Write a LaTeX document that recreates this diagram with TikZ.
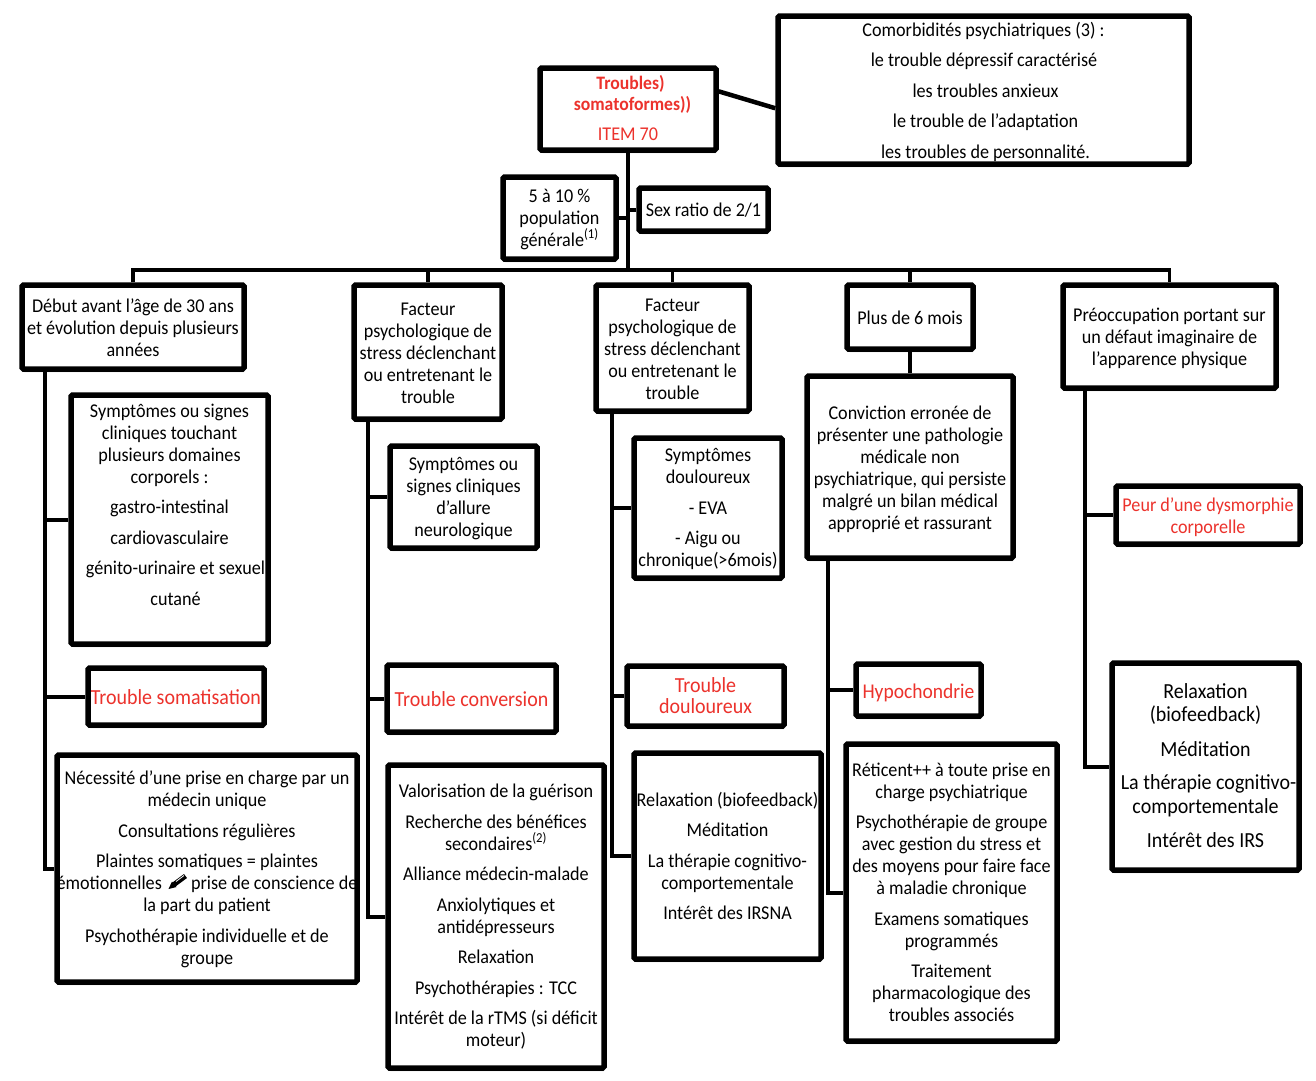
\documentclass[tikz,border=0pt]{standalone}
\usepackage{graphicx}
\usepackage{fontspec}
\setmainfont[FakeStretch=0.93]{Carlito}
\usetikzlibrary{shadows,calc}
\definecolor{redtxt}{RGB}{236,50,44}
\definecolor{shadowgray}{RGB}{175,175,175}
\newcommand{\rl}[1]{\textcolor{redtxt}{#1}}
\newcommand{\fsA}{\fontsize{21.5}{23}\selectfont}
\newcommand{\fsB}{\fontsize{21.5}{23}\selectfont}
\newcommand{\pg}{\\[8.5pt]}
\newcommand{\bx}[7]{%
  \pgfmathsetmacro{\cxx}{(#2+#4)/2}%
  \pgfmathsetmacro{\cyy}{(#3+#5)/2}%
  \pgfmathsetmacro{\www}{#4-#2}%
  \pgfmathsetmacro{\hhh}{#5-#3}%
  \node[boxstyle,minimum width=\www pt,minimum height=\hhh pt] (#1) at (\cxx,\cyy) {};
  \node[txtstyle,yshift=#6pt] (#1-t) at (#1.center) {#7};
}
\tikzset{
  boxstyle/.style={draw=black,fill=white,line width=5.5pt,rounded corners=1.5pt,inner sep=0pt,
    drop shadow={shadow xshift=1pt,shadow yshift=-3pt,fill=shadowgray,opacity=0.8}},
  txtstyle/.style={align=center,inner sep=0pt,font=\fontsize{19.5}{22}\selectfont,text=black},
  conn/.style={draw=black,line width=4pt},
  bus/.style={draw=black,line width=3.5pt},
}
\begin{document}
\begin{tikzpicture}[x=1pt,y=-1pt]
\path[fill=white,use as bounding box] (0,0) rectangle (1316,1080);
\bx{comorb}{778}{16}{1189}{164}{-1.5}{Comorbidités psychiatriques (3) :\pg\hspace*{1pt}le trouble dépressif caractérisé\pg\hspace*{4pt}les troubles anxieux\pg\hspace*{4pt}le trouble de l’adaptation\pg\hspace*{4pt}les troubles de personnalité.}
\bx{title}{540}{68}{716}{150}{1}{\fontsize{19}{21}\selectfont\rl{\textbf{\hspace*{5pt}Troubles)}}\\[-1pt]\fontsize{19}{21}\selectfont\rl{\textbf{\hspace*{9pt}somatoformes))}}\\[8pt]\rl{ITEM 70}}
\bx{pct}{503}{177}{616}{259}{-1.5}{5 à 10 \%\\population\\générale\textsuperscript{(1)}}
\bx{sex}{639}{188}{768}{231}{-1}{Sex ratio de 2/1}
\bx{boxa}{22}{285}{244}{369}{-1}{Début avant l’âge de 30 ans\\et évolution depuis plusieurs\\années}
\bx{boxb}{354}{285}{502}{419}{-1}{Facteur\\psychologique de\\stress déclenchant\\ou entretenant le\\trouble}
\bx{boxc}{596}{285}{749}{411}{-1}{Facteur\\psychologique de\\stress déclenchant\\ou entretenant le\\trouble}
\bx{boxd}{847}{285}{973}{349}{-1}{Plus de 6 mois}
\bx{boxe}{1063}{285}{1276}{388}{-1.5}{Préoccupation portant sur\\un défaut imaginaire de\\l’apparence physique}
\bx{suba}{71}{395}{268}{644}{15}{Symptômes ou signes\\cliniques touchant\\plusieurs domaines\\corporels :\pg gastro-intestinal\pg cardiovasculaire\pg\hspace*{12pt}génito-urinaire et sexuel\pg\hspace*{12pt}cutané}
\bx{soma}{88}{668}{264}{725}{-0.5}{\fsA\rl{Trouble somatisation}}
\bx{neces}{57}{755}{357}{982}{-1}{Nécessité d’une prise en charge par un\\médecin unique\pg Consultations régulières\pg Plaintes somatiques = plaintes\\émotionnelles \hspace*{21pt} prise de conscience de\\la part du patient\pg Psychothérapie individuelle et de\\groupe}
\bx{neuro}{390}{446}{537}{548}{-1.5}{Symptômes ou\\signes cliniques\\d’allure\\neurologique}
\bx{conv}{387}{665}{556}{732}{-1}{\fsA\rl{Trouble conversion}}
\bx{valor}{388}{765}{604}{1068}{-0.5}{Valorisation de la guérison\pg Recherche des bénéfices\\secondaires\textsuperscript{(2)}\pg Alliance médecin-malade\pg Anxiolytiques et\\antidépresseurs\pg Relaxation\pg Psychothérapies : TCC\pg Intérêt de la rTMS (si déficit\\moteur)}
\bx{doul}{634}{438}{782}{578}{-1}{Symptômes\\douloureux\pg - EVA\pg - Aigu ou\\chronique(>6mois)}
\bx{tdoul}{627}{666}{784}{726}{0}{\fsB\rl{Trouble}\\[-1pt]\fsB\rl{douloureux}}
\bx{relax}{634}{753}{821}{959}{0}{Relaxation (biofeedback)\pg Méditation\pg La thérapie cognitivo-\\comportementale\pg Intérêt des IRSNA}
\bx{convic}{807}{376}{1013}{558}{-2}{Conviction erronée de\\présenter une pathologie\\médicale non\\psychiatrique, qui persiste\\malgré un bilan médical\\approprié et rassurant}
\bx{hypo}{856}{664}{981}{716}{-3}{\fontsize{21}{23}\selectfont\rl{Hypochondrie}}
\bx{retic}{846}{744}{1057}{1041}{0}{Réticent++ à toute prise en\\charge psychiatrique\pg Psychothérapie de groupe\\avec gestion du stress et\\des moyens pour faire face\\à maladie chronique\pg Examens somatiques\\programmés\pg Traitement\\pharmacologique des\\troubles associés}
\bx{peur}{1116}{486}{1300}{544}{-2}{\rl{Peur d’une dysmorphie}\\\rl{corporelle}}
\bx{relaxb}{1112}{663}{1299}{870}{1}{\fsB Relaxation\\[1pt]\fsB(biofeedback)\\[13.5pt]\fsB Méditation\\[11pt]\fsB\hspace*{6pt}La thérapie cognitivo-\\[2pt]\fsB comportementale\\[12pt]\fsB Intérêt des IRS}
% pencil icon
\draw[black,line width=5pt] (174,884.5) -- (185.5,876);
\draw[white,line width=0.8pt] (176,881.5) -- (184,875.5);
\fill[black] (168.5,889) -- (172,881.5) -- (176.5,887) -- cycle;
% bus and spine
\coordinate (busc) at (628,270);
\coordinate (cola) at (45,0);
\coordinate (colb) at (368,0);
\coordinate (colc) at (612,0);
\coordinate (cold) at (828,0);
\coordinate (cole) at (1085,0);
\draw[conn] (title.south) -- (busc);
\draw[conn] (pct.east) -- (pct.east -| title.south);
\draw[conn] (sex.west) -- (sex.west -| title.south);
\draw[conn,line width=4.5pt] (title.11) -- (comorb.185);
\draw[bus] (boxa.north) |- (busc);
\draw[bus] (boxb.north) |- (busc);
\draw[bus] (boxc.north) |- (busc);
\draw[bus] (boxd.north) |- (busc);
\draw[bus] (boxe.north) |- (busc);
\draw[conn] (boxd.south) -- (boxd.south |- convic.north);
\draw[conn] (boxa.south -| cola) |- (neces.west);
\draw[conn] (boxa.south -| cola) |- (suba.west);
\draw[conn] (boxa.south -| cola) |- (soma.west);
\draw[conn] (boxb.south -| colb) |- (valor.west);
\draw[conn] (boxb.south -| colb) |- (neuro.west);
\draw[conn] (boxb.south -| colb) |- (conv.west);
\draw[conn] (boxc.south -| colc) |- (relax.west);
\draw[conn] (boxc.south -| colc) |- (doul.west);
\draw[conn] (boxc.south -| colc) |- (tdoul.west);
\draw[conn] (convic.south -| cold) |- (retic.west);
\draw[conn] (convic.south -| cold) |- (hypo.west);
\draw[conn] (boxe.south -| cole) |- (relaxb.west);
\draw[conn] (boxe.south -| cole) |- (peur.west);
\end{tikzpicture}
\end{document}
